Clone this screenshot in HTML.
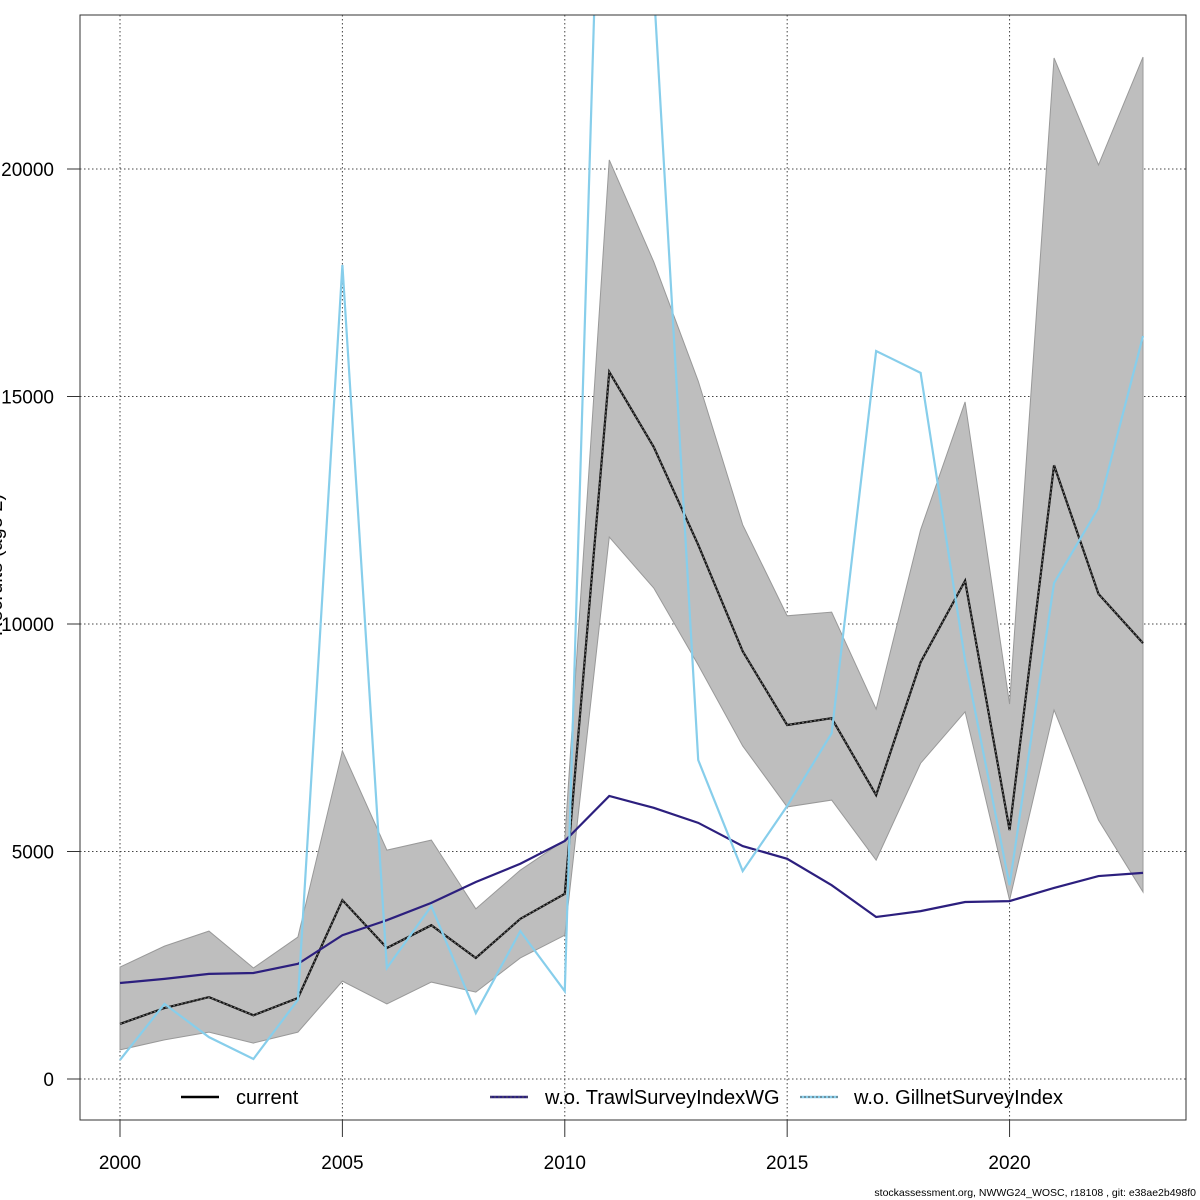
<!DOCTYPE html>
<html><head><meta charset="utf-8"><style>
body{margin:0;background:#fff}
svg{display:block;font-family:"Liberation Sans",sans-serif}
</style></head><body>
<svg id="c" width="1200" height="1200">
<defs><clipPath id="clip"><rect x="80" y="15" width="1106" height="1105"/></clipPath></defs>
<rect x="0" y="0" width="1200" height="1200" fill="#fff"/>
<g id="grid"></g>
<g id="plot" clip-path="url(#clip)"></g>
<rect x="80" y="15" width="1106" height="1105" fill="none" stroke="#333" stroke-width="1"/>
<g id="axes"></g>
<text x="2" y="565" transform="rotate(-90 2 565)" text-anchor="middle" font-size="20">Recruits (age 2)</text>
<text x="615" y="1215" text-anchor="middle" font-size="20">Year</text>
<text x="1196" y="1196" text-anchor="end" font-size="10.5">stockassessment.org, NWWG24_WOSC, r18108 , git: e38ae2b498f0</text>
<g>
<line x1="181" y1="1097" x2="219" y2="1097" stroke="#000" stroke-width="2.5"/>
<text x="236" y="1104" font-size="20">current</text>
<line x1="490" y1="1097" x2="528" y2="1097" stroke="#2c1f7e" stroke-width="2.5"/>
<line x1="490" y1="1097" x2="528" y2="1097" stroke="#555" stroke-width="1" stroke-dasharray="2,2"/>
<text x="545" y="1104" font-size="20">w.o. TrawlSurveyIndexWG</text>
<line x1="800" y1="1097" x2="838" y2="1097" stroke="#87ceeb" stroke-width="2.5"/>
<line x1="800" y1="1097" x2="838" y2="1097" stroke="#555" stroke-width="1" stroke-dasharray="2,2"/>
<text x="854" y="1104" font-size="20">w.o. GillnetSurveyIndex</text>
</g>
</svg>
<script>
const years=[2000,2001,2002,2003,2004,2005,2006,2007,2008,2009,2010,2011,2012,2013,2014,2015,2016,2017,2018,2019,2020,2021,2022,2023];
const current=[1210,1560,1800,1400,1780,3930,2880,3380,2660,3520,4070,15540,13890,11740,9400,7780,7930,6240,9160,10950,5470,13490,10660,9580];
const upper=[2460,2920,3250,2440,3120,7210,5030,5250,3740,4590,5250,20200,17960,15340,12180,10180,10260,8130,12070,14880,8240,22440,20090,22460];
const lower=[640,860,1030,790,1030,2150,1650,2130,1910,2660,3160,11910,10790,9100,7320,5980,6130,4810,6940,8070,3930,8110,5690,4110];
const trawl=[2110,2200,2310,2330,2530,3160,3490,3870,4330,4730,5230,6220,5960,5630,5120,4840,4260,3560,3690,3890,3910,4200,4460,4530];
const gillnet=[420,1650,920,440,1740,17890,2440,3800,1450,3250,1930,34500,24000,7010,4570,6000,7600,16000,15520,9200,4260,10900,12550,16330];
const xTicks=[2000,2005,2010,2015,2020];
const yTicks=[0,5000,10000,15000,20000];
const NS="http://www.w3.org/2000/svg";
const X=y=>120+(y-2000)*(1143-120)/23;
const Y=v=>1079-v*910/20000;
function mk(t,a,p){const e=document.createElementNS(NS,t);for(const k in a)e.setAttribute(k,a[k]);p.appendChild(e);return e;}
const grid=document.getElementById('grid'),plot=document.getElementById('plot'),axes=document.getElementById('axes');
xTicks.forEach(t=>{
 const g=mk('line',{x1:X(t),x2:X(t),y1:15,y2:1120,stroke:'#444','stroke-dasharray':'1.5,2.5','stroke-width':1},grid);
 
 
 const tk=mk('line',{x1:X(t),x2:X(t),y1:1120,y2:1137,stroke:'#333'},axes);
 
 
 const tx=mk('text',{x:X(t),y:1169,'text-anchor':'middle','font-size':19},axes);tx.textContent=t;
 
 
});
yTicks.forEach(t=>{
 const g=mk('line',{x1:80,x2:1186,y1:Y(t),y2:Y(t),stroke:'#444','stroke-dasharray':'1.5,2.5','stroke-width':1},grid);
 
 
 const tk=mk('line',{x1:67,x2:80,y1:Y(t),y2:Y(t),stroke:'#333'},axes);
 
 
 const tx=mk('text',{x:54,y:Y(t)+7,'text-anchor':'end','font-size':19},axes);tx.textContent=t;
 
 
});
let pts=years.map((y,i)=>X(y)+','+Y(upper[i]));
for(let i=years.length-1;i>=0;i--)pts.push(X(years[i])+','+Y(lower[i]));
const band=mk('polygon',{points:pts.join(' '),fill:'#bebebe',stroke:'#999','stroke-width':1},plot);


function line(arr,col,name,dash){
 const p=mk('polyline',{points:years.map((y,i)=>X(y)+','+Y(arr[i])).join(' '),fill:'none',stroke:col,'stroke-width':2.2},plot);
 
 
 if(dash)mk('polyline',{points:years.map((y,i)=>X(y)+','+Y(arr[i])).join(' '),fill:'none',stroke:'#777','stroke-width':1,'stroke-dasharray':'2,2'},plot);
}
line(current,'#111','current-line',true);
line(trawl,'#2c1f7e','trawl-line',false);
line(gillnet,'#87ceeb','gillnet-line',false);
</script>
</body></html>
